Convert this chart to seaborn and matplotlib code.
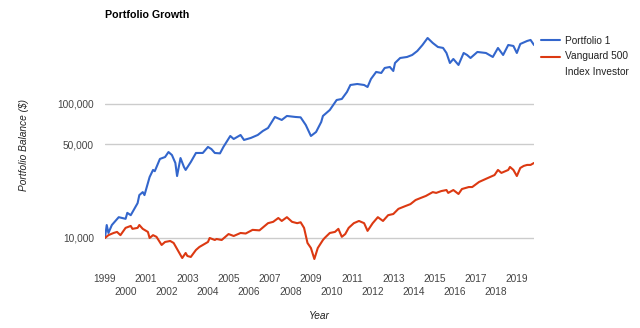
import matplotlib
matplotlib.use("Agg")
import matplotlib.pyplot as plt
import matplotlib.ticker as mticker
from matplotlib.lines import Line2D
from matplotlib.legend_handler import HandlerLine2D
import seaborn as sns
import pandas as pd

# ---- data ----
blue_months = ["1999-01","1999-02","1999-03","1999-05","1999-09","2000-01","2000-02","2000-04",
               "2000-08","2000-09","2000-11","2000-12","2001-02","2001-03","2001-05","2001-06",
               "2001-09","2001-12","2002-02","2002-04","2002-06","2002-07","2002-09","2002-11",
               "2002-12","2003-03","2003-06","2003-10","2004-01","2004-03","2004-05","2004-08",
               "2004-10","2005-02","2005-04","2005-08","2005-10","2006-02","2006-06","2006-09",
               "2006-12","2007-04","2007-08","2007-11","2008-04","2008-07","2008-10","2009-01",
               "2009-04","2009-07","2009-08","2009-12","2010-04","2010-07","2010-10","2010-12",
               "2011-04","2011-08","2011-10","2011-12","2012-03","2012-06","2012-08","2012-11",
               "2013-01","2013-02","2013-05","2013-09","2013-12","2014-03","2014-06","2014-09",
               "2014-12","2015-03","2015-06","2015-08","2015-09","2015-10","2015-12","2016-03",
               "2016-06","2016-08","2016-10","2017-02","2017-07","2017-11","2018-02","2018-05",
               "2018-08","2018-11","2019-01","2019-03","2019-07","2019-09","2019-11"]
blue_values = [10000,12500,10900,12500,14300,13900,15400,14800,
               18200,20900,22000,20900,25700,28500,32200,31500,
               38900,40200,43800,41600,36300,29000,39500,33900,
               32200,36900,43100,43100,47800,46100,43100,42800,
               47800,57700,54800,58700,53900,55800,58700,62900,
               66200,80000,76000,81400,80000,79500,69700,57700,
               61800,73400,81400,90200,107100,109000,122900,138600,
               141000,138600,133900,153700,173400,170400,185700,188900,
               176300,202300,220400,224300,232100,248600,275600,310800,
               285300,266300,262000,240200,220400,202300,216700,195500,
               240200,232100,220400,244400,240200,224300,261800,232100,
               275600,271000,240200,280400,295300,300500,275600]

red_months = ["1999-01","1999-03","1999-06","1999-08","1999-10","2000-01","2000-04","2000-05",
              "2000-08","2000-09","2000-11","2001-02","2001-03","2001-05","2001-07","2001-10",
              "2001-12","2002-03","2002-05","2002-08","2002-10","2002-12","2003-01","2003-03",
              "2003-06","2003-08","2004-01","2004-02","2004-05","2004-06","2004-09","2005-01",
              "2005-04","2005-08","2005-11","2006-03","2006-07","2006-12","2007-03","2007-06",
              "2007-08","2007-11","2008-02","2008-05","2008-07","2008-09","2008-11","2009-01",
              "2009-03","2009-05","2009-08","2009-09","2009-12","2010-03","2010-05","2010-07",
              "2010-09","2010-11","2011-02","2011-05","2011-08","2011-10","2012-01","2012-04",
              "2012-07","2012-10","2013-01","2013-04","2013-08","2013-11","2014-02","2014-05",
              "2014-08","2014-12","2015-02","2015-05","2015-08","2015-09","2015-12","2016-03",
              "2016-05","2016-09","2016-11","2017-03","2017-08","2017-12","2018-02","2018-04",
              "2018-08","2018-09","2018-11","2019-01","2019-03","2019-05","2019-07","2019-09",
              "2019-11"]
red_values = [10000,10500,10900,11100,10500,11900,12300,11700,
              11900,12500,11700,11100,10000,10500,10200,8870,
              9340,9500,9180,7860,7090,7730,7340,7220,
              8140,8570,9340,10000,9660,9830,9660,10700,
              10350,10900,10800,11500,11400,12900,13200,14100,
              13400,14300,13200,12900,13100,11900,9180,8420,
              6970,8420,9660,10000,10900,11100,11700,10200,
              10700,11900,12900,13400,12900,11300,12900,14300,
              13400,14800,15100,16500,17300,17900,19200,19900,
              20600,22000,21700,22400,22800,21700,22800,21300,
              23200,24000,24000,26200,28000,29500,32200,30600,
              32200,33900,32200,29000,33300,34500,35100,35100,
              36300]

series_names = ["Portfolio 1", "Vanguard 500\nIndex Investor"]
year_ticks = list(range(1999, 2020))
y_ticks = [10000, 50000, 100000]
y_tick_labels = ["10,000", "50,000", "100,000"]


def to_year(m):
    y, mo = m.split("-")
    return int(y) + (int(mo) - 1) / 12.0


df = pd.concat([
    pd.DataFrame({"t": [to_year(m) for m in blue_months], "v": blue_values, "s": series_names[0]}),
    pd.DataFrame({"t": [to_year(m) for m in red_months], "v": red_values, "s": series_names[1]}),
], ignore_index=True)

sns.set_style("white")
plt.rcParams["font.family"] = ["Liberation Sans", "DejaVu Sans"]

W, H = 640, 328
fig = plt.figure(figsize=(W / 100, H / 100), dpi=100)
ax_l, ax_r, ax_t, ax_b = 105, 534, 28, 262
ax = fig.add_axes([ax_l / W, 1 - ax_b / H, (ax_r - ax_l) / W, (ax_b - ax_t) / H])

sns.lineplot(data=df, x="t", y="v", hue="s", palette=["#3366CC", "#DC3912"],
             linewidth=1.5, ax=ax, legend=False, sort=True, estimator=None)

ax.set_yscale("log")
ax.set_ylim(6620, 369000)
ax.set_xlim(1999, 2019 + 10 / 12)
ax.yaxis.set_major_locator(mticker.FixedLocator(y_ticks))
ax.yaxis.set_major_formatter(mticker.FixedFormatter(y_tick_labels))
ax.yaxis.set_minor_locator(mticker.NullLocator())
ax.grid(axis="y", color="#cccccc", linewidth=1)
ax.grid(axis="x", visible=False)
for s in ax.spines.values():
    s.set_visible(False)

odd = [y for y in year_ticks if y % 2 == 1]
even = [y for y in year_ticks if y % 2 == 0]
ax.xaxis.set_major_locator(mticker.FixedLocator(odd))
ax.xaxis.set_major_formatter(mticker.FixedFormatter([str(y) for y in odd]))
ax.xaxis.set_minor_locator(mticker.FixedLocator(even))
ax.xaxis.set_minor_formatter(mticker.FixedFormatter([str(y) for y in even]))
ax.tick_params(axis="x", which="major", length=0, pad=8.5, labelsize=7.3, labelcolor="#444444")
ax.tick_params(axis="x", which="minor", length=0, pad=18.3, labelsize=7.3, labelcolor="#444444")
ax.tick_params(axis="y", length=0, pad=8, labelsize=7.3, labelcolor="#444444")

ax.set_xlabel("Year", fontsize=7.3, style="italic", color="#222222", labelpad=9.5)
ax.set_ylabel("Portfolio Balance ($)", fontsize=7.3, style="italic", color="#222222", labelpad=20)

fig.text(ax_l / W, 1 - 15 / H, "Portfolio Growth", fontsize=7.7, fontweight="bold",
         color="#000000", ha="left", va="center")


class TopAlignedHandler(HandlerLine2D):
    """Legend line drawn level with the first line of a two-line label."""
    def __init__(self, dy=0.0, **kw):
        super().__init__(**kw)
        self.dy = dy

    def create_artists(self, legend, orig_handle, xdescent, ydescent, width, height,
                       fontsize, trans):
        arts = super().create_artists(legend, orig_handle, xdescent, ydescent, width,
                                      height, fontsize, trans)
        for a in arts:
            if isinstance(a, Line2D):
                a.set_ydata([y + self.dy for y in a.get_ydata()])
        return arts


h_blue = Line2D([], [], color="#3366CC", lw=1.5)
h_red = Line2D([], [], color="#DC3912", lw=1.5)
leg = fig.legend([h_blue, h_red], series_names, loc="upper left",
                 bbox_to_anchor=(541 / W, 1 - 36 / H),
                 frameon=False, fontsize=7.3, handlelength=1.9, handletextpad=0.45,
                 labelspacing=0.5, borderpad=0, borderaxespad=0, labelcolor="#222222",
                 handler_map={h_red: TopAlignedHandler(dy=5.6)})
for t in leg.get_texts():
    t.set_linespacing(1.7)

fig.savefig("out.png", dpi=100)
